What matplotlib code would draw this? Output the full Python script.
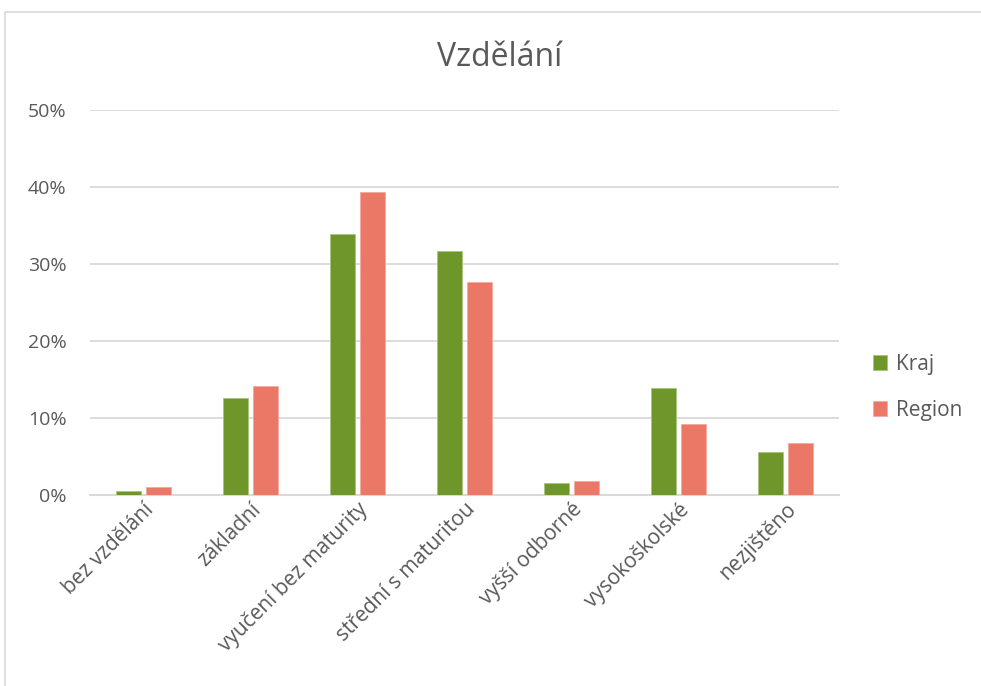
import numpy as np
import matplotlib.pyplot as plt
from matplotlib.patches import Rectangle
from matplotlib.ticker import PercentFormatter

categories = ['bez vzdělání', 'základní', 'vyučení bez maturity', 'střední s maturitou',
              'vyšší odborné', 'vysokoškolské', 'nezjištěno']
kraj = [0.5, 12.6, 33.9, 31.7, 1.6, 13.9, 5.6]
region = [1.0, 14.2, 39.4, 27.7, 1.8, 9.2, 6.8]

plt.rcParams['font.family'] = ['Open Sans', 'DejaVu Sans']
text_color = '#595959'

fig = plt.figure(figsize=(9.81, 6.86), dpi=100)
ax = fig.add_axes([90 / 981, 1 - 495 / 686, (839 - 90) / 981, (495 - 110) / 686])

x = np.arange(len(categories))
w = 0.225
ax.bar(x - 0.14, np.array(kraj) / 100, w, color='#6E962B', edgecolor='#a9c47f', linewidth=0.6, label='Kraj', zorder=3)
ax.bar(x + 0.14, np.array(region) / 100, w, color='#EB7767', edgecolor='#f3aaa0', linewidth=0.6, label='Region', zorder=3)

ax.set_xlim(-0.5, len(categories) - 0.5)
ax.set_ylim(0, 0.5)
ax.set_yticks(np.arange(0, 0.51, 0.1))
ax.yaxis.set_major_formatter(PercentFormatter(1.0, decimals=0))
ax.grid(axis='y', color='#d9d9d9', linewidth=1.3, zorder=0)
for s in ['top', 'right', 'left']:
    ax.spines[s].set_visible(False)
ax.spines['bottom'].set_color('#d9d9d9')
ax.spines['bottom'].set_linewidth(1.5)
ax.tick_params(length=0, labelsize=15, colors=text_color)
ax.tick_params(axis='y', labelsize=14, pad=17)
ax.set_xticks(x)
ax.set_xticklabels(categories, rotation=45, ha='right', rotation_mode='anchor')
ax.tick_params(axis='x', pad=3)

fig.text(500 / 981, 1 - 57 / 686, 'Vzdělání', ha='center', va='center', fontsize=23, color=text_color)

leg = ax.legend(loc='center left', bbox_to_anchor=(1.02, 0.28), frameon=False,
                fontsize=15, labelcolor=text_color, handlelength=0.7, handleheight=0.7,
                handletextpad=0.4, labelspacing=1.2)

fig.patches.append(Rectangle((5 / 981, -0.1), 1.2, 1 - 12 / 686 + 0.1, transform=fig.transFigure,
                             fill=False, edgecolor='#d9d9d9', linewidth=1.2))

fig.savefig('out.png', dpi=100)
